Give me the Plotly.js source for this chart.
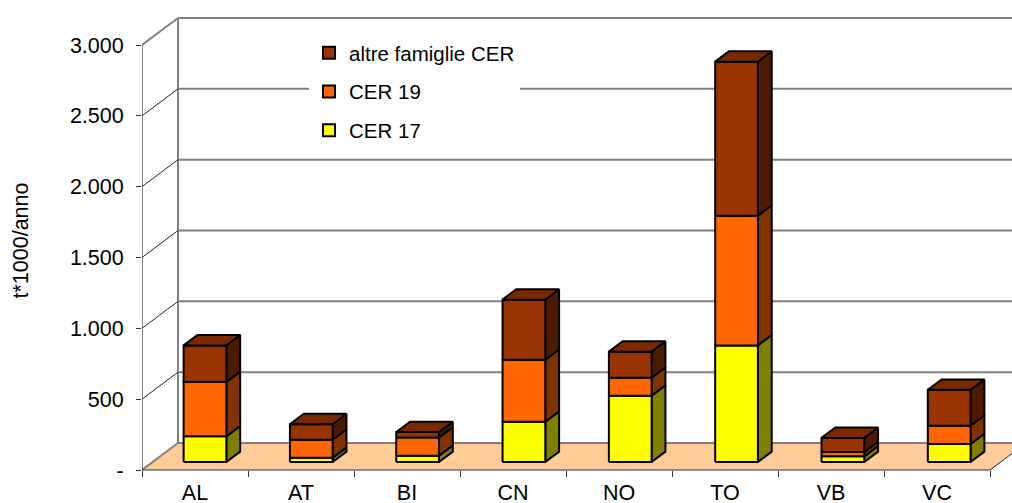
<!DOCTYPE html>
<html><head><meta charset="utf-8">
<script src="https://cdn.plot.ly/plotly-3.0.1.min.js"></script>
<style>html,body{margin:0;padding:0;background:#fff;overflow:hidden}</style>
</head><body><div id="chart" style="width:1012px;height:503px"></div>
<script>
const categories = ['AL','AT','BI','CN','NO','TO','VB','VC'];
const cer17 = [181, 30, 44, 284, 468, 823, 40, 127];
const cer19 = [384, 127, 129, 438, 127, 916, 31, 129];
const altre = [258, 110, 38, 424, 184, 1087, 99, 254];
const yTickVals = [0, 500, 1000, 1500, 2000, 2500, 3000];
const yTickText = ['-', '500', '1.000', '1.500', '2.000', '2.500', '3.000'];
const catEdges = [0, 1, 2, 3, 4, 5, 6, 7, 8];
const catCentres = [0.5, 1.5, 2.5, 3.5, 4.5, 5.5, 6.5, 7.5];

// oblique projection of the 3-D box onto the 2-D axes
const PXX = 106, PXY = 425 / 3000;
const DX = 36 / PXX, DY = 27 / PXY;       // full depth of the floor, in axis units
const P = (x, y, d) => [x + d * DX, y + d * DY];
const BAR_D0 = 0.296, BAR_D1 = 0.68, BAR_L = 0.292, BAR_W = 0.403, PITCH = 1.003;

function poly(points) {
  const xs = [], ys = [];
  points.forEach(p => { const q = P(p[0], p[1], p[2]); xs.push(q[0]); ys.push(q[1]); });
  xs.push(xs[0]); ys.push(ys[0]);
  return {x: xs, y: ys};
}
function faces(list) {
  const x = [], y = [];
  list.forEach(f => { x.push(...f.x, null); y.push(...f.y, null); });
  return {x, y};
}
function faceTrace(list, fill) {
  const f = faces(list);
  return {x: f.x, y: f.y, mode: 'lines', fill: 'toself', fillcolor: fill,
    line: {color: '#000', width: 2}, showlegend: false, hoverinfo: 'skip', cliponaxis: false};
}
function lineTrace(segments, color, width) {
  const x = [], y = [];
  segments.forEach(s => {
    s.forEach(p => { const q = P(p[0], p[1], p[2]); x.push(q[0]); y.push(q[1]); });
    x.push(null); y.push(null);
  });
  return {x, y, mode: 'lines', line: {color, width}, showlegend: false, hoverinfo: 'skip', cliponaxis: false};
}

const series = [
  {name: 'CER 17', values: cer17, front: '#FFFF00', side: '#808000', top: '#CCCC00'},
  {name: 'CER 19', values: cer19, front: '#FF6600', side: '#803300', top: '#CC5200'},
  {name: 'altre famiglie CER', values: altre, front: '#993300', side: '#4D1A00', top: '#7A2900'}
];

const traces = [];
// floor
const floorRight = catEdges[catEdges.length - 1];
traces.push({...poly([[0,0,0],[floorRight,0,0],[floorRight,0,1],[0,0,1]]), mode: 'lines', fill: 'toself',
  fillcolor: '#FFCC99', line: {width: 0}, showlegend: false, hoverinfo: 'skip', cliponaxis: false});
// back wall grid, side wall, frame
traces.push(lineTrace(yTickVals.map(v => [[0,v,1],[floorRight,v,1]]), '#808080', 2));
traces.push(lineTrace([[[0,0,1],[0,3000,1]], [[0,3000,0],[0,3000,1]], [[0,0,0],[0,0,1]]], '#808080', 2));
traces.push(lineTrace([500,1000,1500,2000,2500].map(v => [[0,v,0],[0,v,1]]), '#222', 1));
traces.push(lineTrace([[[floorRight,0,0],[floorRight,0,1]]], '#222', 1));
traces.push(lineTrace([[[0,0,0],[0,3000,0]], [[0,0,0],[floorRight,0,0]]], '#333', 1.2));

// bars: sides first, then fronts, then the top cap
const cum = categories.map(() => 0);
const sideLists = [], frontLists = [];
series.forEach(s => {
  const side = [], front = [];
  s.values.forEach((v, i) => {
    const a = cum[i], b = a + v, L = i * PITCH + BAR_L, R = L + BAR_W;
    front.push(poly([[L,a,BAR_D0],[R,a,BAR_D0],[R,b,BAR_D0],[L,b,BAR_D0]]));
    side.push(poly([[R,a,BAR_D0],[R,a,BAR_D1],[R,b,BAR_D1],[R,b,BAR_D0]]));
    cum[i] = b;
  });
  sideLists.push(faceTrace(side, s.side));
  frontLists.push(faceTrace(front, s.front));
});
traces.push(...sideLists, ...frontLists);
const topFaces = cum.map((b, i) => {
  const L = i * PITCH + BAR_L, R = L + BAR_W;
  return poly([[L,b,BAR_D0],[R,b,BAR_D0],[R,b,BAR_D1],[L,b,BAR_D1]]);
});
traces.push(faceTrace(topFaces, series[2].top));

// legend entries, top to bottom as in the chart
[series[2], series[1], series[0]].forEach(s => traces.push({
  x: [null], y: [null], mode: 'markers', name: s.name, legendgroup: s.name,
  marker: {symbol: 'square', size: 12, color: s.front, line: {color: '#000', width: 2}},
  hoverinfo: 'skip'
}));

const family = '"Liberation Sans", Arial, sans-serif';
const tickFont = {family, size: 21.5, color: '#000'};
const legendFont = {family, size: 20.5, color: '#000'};
const PLOT_H = 481, ZERO_PX = 470;   // plot area runs 11px below the zero line so the axis title centres at 240
const layout = {
  width: 1012, height: 503,
  margin: {l: 142, r: 0, t: 0, b: 22, pad: 0},
  paper_bgcolor: '#fff', plot_bgcolor: '#fff', font: tickFont,
  hovermode: false,
  xaxis: {range: [0, 870 / PXX], fixedrange: true, showgrid: false, zeroline: false, showline: false,
    anchor: 'free', position: (PLOT_H - ZERO_PX) / PLOT_H,
    tickmode: 'array', tickvals: catCentres, ticktext: categories, ticks: '', ticklabelstandoff: 7,
    tickfont: tickFont,
    minor: {tickmode: 'array', tickvals: catEdges, ticks: 'outside', ticklen: 6, tickwidth: 1, tickcolor: '#333', showgrid: false}},
  yaxis: {range: [-(PLOT_H - ZERO_PX) / PXY, ZERO_PX / PXY], fixedrange: true, showgrid: false, zeroline: false, showline: false,
    tickmode: 'array', tickvals: yTickVals, ticktext: yTickText, ticks: 'outside', ticklen: 5, tickwidth: 1,
    tickcolor: '#333', ticklabelstandoff: 8, tickfont: tickFont,
    title: {text: 't*1000/anno', font: {family, size: 21.5, color: '#000'}, standoff: 35}},
  legend: {x: 167 / 870, xanchor: 'left', y: (PLOT_H - 33) / PLOT_H, yanchor: 'top', bgcolor: '#fff', borderwidth: 0,
    font: legendFont, tracegroupgap: 9, entrywidth: 166, entrywidthmode: 'pixels', traceorder: 'grouped'},
  showlegend: true
};
Plotly.newPlot('chart', traces, layout, {displayModeBar: false, staticPlot: true});
</script></body></html>
